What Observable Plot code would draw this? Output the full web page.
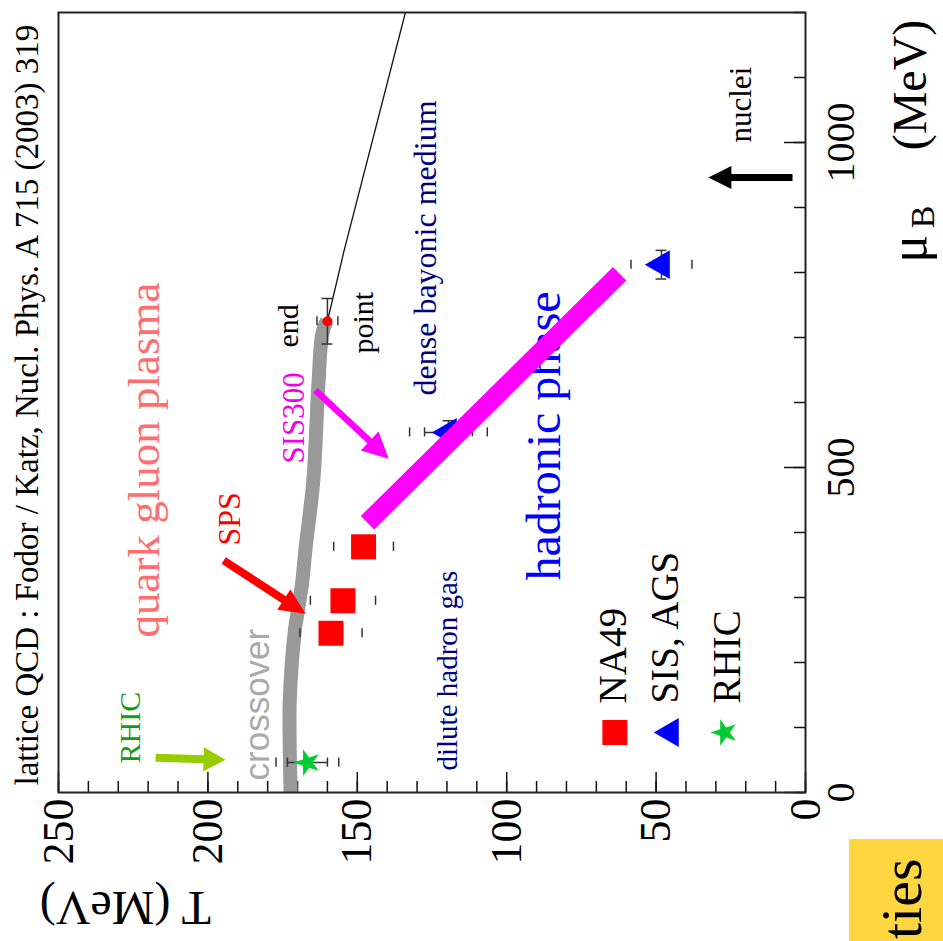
<!DOCTYPE html>
<html>
<head>
<meta charset="utf-8">
<script src="https://cdn.jsdelivr.net/npm/d3@7"></script>
<script src="https://cdn.jsdelivr.net/npm/@observablehq/plot@0.6"></script>
<style>
  html, body { margin: 0; padding: 0; background: #fff; }
  #wrap { position: relative; width: 943px; height: 941px; overflow: hidden; }
  #wrap > svg { display: block; }
  #ties { position: absolute; left: 849px; top: 839px; width: 94px; height: 102px; background: #ffd640; overflow: hidden; }
</style>
</head>
<body>
<div id="wrap">
  <div id="ties"><svg width="94" height="102"><text transform="translate(72,100) rotate(-90)" font-family="'Liberation Serif','Times New Roman',serif" font-size="58" fill="#000">ties</text></svg></div>
</div>
<script>
// ---------- data (μB and T in MeV) ----------
// lattice QCD crossover band (Fodor / Katz)
const crossoverMuB = [0, 65, 141, 245, 321, 372, 475, 526, 629, 706, 726];
const crossoverT   = [172.3, 172.6, 172.6, 171.0, 168.5, 167.4, 164.8, 164.1, 163.0, 161.7, 160.2];
// first-order line beyond the critical end point
const firstOrderMuB = [725, 834, 1200];
const firstOrderT   = [160, 154.4, 133.9];
// critical end point
const endPoint = [{muB: 725, T: 160, errMuB: 35, errT: 3.5}];
// chemical freeze-out points
const na49   = [{muB: 245, T: 158.8, errOut: 10.4}, {muB: 295, T: 154.8, errOut: 10.9}, {muB: 378, T: 147.9, errOut: 10.0}];
const sisAgs = [{muB: 554, T: 119.5, errIn: 8, errOut: 13, errMuB: 18}, {muB: 812, T: 48.2, errIn: 0, errOut: 10.2, errMuB: 22}];
const rhic   = [{muB: 46, T: 166.7, errIn: 6.7, errOut: 10.5}];
// SIS300 range (thick magenta bar)
const sis300 = [{mu1: 415, T1: 146.6, mu2: 798, T2: 62.2}];
// arrows
const arrowSPS    = {mu1: 356.9, T1: 194.7, mu2: 274.9, T2: 167.3};
const arrowRHIC   = {mu1: 53.4,  T1: 217.5, mu2: 50.3,  T2: 194.1};
const arrowSIS300 = {mu1: 618.5, T1: 164.0, mu2: 513.4, T2: 139.5};
const arrowNuclei = {mu1: 946,   T1: 4.35,  mu2: 946,   T2: 32.5};
// ticks
const tTicks  = d3.range(0, 251, 10);
const tMajor  = [0, 50, 100, 150, 200, 250];
const muTicks = d3.range(0, 1201, 100);
const muMajor = [0, 500, 1000];
// text annotations (anchor in data coordinates)
const citation   = {text: "lattice QCD : Fodor / Katz, Nucl. Phys. A 715 (2003) 319", T: 257.0, muB: 10.8};
const qgpLabel   = {text: "quark gluon plasma", T: 216.5, muB: 238.5};
const crossLabel = {text: "crossover", T: 179.7, muB: 18.5};
const rhicLabel  = {text: "RHIC", T: 222.6, muB: 44.6};
const spsLabel   = {text: "SPS", T: 189.1, muB: 380};
const sisLabel   = {text: "SIS300", T: 168.0, muB: 506};
const endLabel   = {text: "end", T: 169.7, muB: 684.6};
const pointLabel = {text: "point", T: 144.6, muB: 675.4};
const denseLabel = {text: "dense bayonic medium", T: 123.5, muB: 610.8};
const hadLabel   = {text: "hadronic phase", T: 82.0, muB: 326};
const diluteLabel= {text: "dilute hadron gas", T: 116.8, muB: 33.8};
const nucleiLabel= {text: "nuclei", T: 18.4, muB: 1000};
const legendNames = ["NA49", "SIS, AGS", "RHIC"];
const legendT     = [63.8, 45.2, 27.1];
const legendTextT = [60.2, 42.8, 21.8];
const legendMuB   = 92.3;
const legendTextMuB = 137;

// ---------- geometry ----------
const W = 943, H = 941;
const M = {left: 58, right: 138, top: 12, bottom: 149};
const Tdom = [250, 0], Mdom = [0, 1200];
const kx = (W - M.left - M.right) / (Tdom[1] - Tdom[0]);
const ky = -(H - M.top - M.bottom) / (Mdom[1] - Mdom[0]);
const angle = a => Math.atan2((a.T2 - a.T1) * kx, -(a.mu2 - a.mu1) * ky) * 180 / Math.PI;

const serif = "'Liberation Serif','Times New Roman',serif";
const sans = "'Liberation Sans',Arial,sans-serif";

const crossover = crossoverMuB.map((m, i) => ({muB: m, T: crossoverT[i]}));
const firstOrder = firstOrderMuB.map((m, i) => ({muB: m, T: firstOrderT[i]}));
const legend = legendNames.map((name, i) => ({name, T: legendT[i], Tt: legendTextT[i]}));

function label(d, o) {
  return Plot.text([d], {x: "T", y: "muB", text: "text", rotate: -90, textAnchor: "start",
    lineAnchor: "bottom", fontFamily: serif, ...o});
}
const eb = {stroke: "#333", strokeWidth: 1.5};
const capMu = 7, capT = 1.8;
function errorMarks(data) {
  const inner = data.filter(d => d.errIn > 0);
  const outer = data.filter(d => d.errOut > 0);
  const mu = data.filter(d => d.errMuB > 0);
  return [
    Plot.ruleY(inner, {y: "muB", x1: d => d.T - d.errIn, x2: d => d.T + d.errIn, ...eb}),
    Plot.ruleX(inner, {x: d => d.T - d.errIn, y1: d => d.muB - capMu, y2: d => d.muB + capMu, ...eb}),
    Plot.ruleX(inner, {x: d => d.T + d.errIn, y1: d => d.muB - capMu, y2: d => d.muB + capMu, ...eb}),
    Plot.ruleX(outer, {x: d => d.T - d.errOut, y1: d => d.muB - capMu, y2: d => d.muB + capMu, ...eb}),
    Plot.ruleX(outer, {x: d => d.T + d.errOut, y1: d => d.muB - capMu, y2: d => d.muB + capMu, ...eb}),
    Plot.ruleX(mu, {x: "T", y1: d => d.muB - d.errMuB, y2: d => d.muB + d.errMuB, ...eb}),
    Plot.ruleY(mu, {y: d => d.muB - d.errMuB, x1: d => d.T - capT, x2: d => d.T + capT, ...eb}),
    Plot.ruleY(mu, {y: d => d.muB + d.errMuB, x1: d => d.T - capT, x2: d => d.T + capT, ...eb})
  ];
}
const head = (L, Wd) => ({draw(ctx) { ctx.moveTo(0, 0); ctx.lineTo(Wd / 2, L); ctx.lineTo(-Wd / 2, L); ctx.closePath(); }});
function arrowMarks(a, color, width, L, Wd) {
  return [
    Plot.arrow([a], {x1: "T1", y1: "mu1", x2: "T2", y2: "mu2", headLength: 0, insetEnd: L * 0.6,
      stroke: color, strokeWidth: width, strokeLinecap: "butt"}),
    Plot.dot([a], {x: "T2", y: "mu2", symbol: head(L, Wd), rotate: angle(a), fill: color, stroke: "none"})
  ];
}

const chart = Plot.plot({
  width: W, height: H,
  marginLeft: M.left, marginRight: M.right, marginTop: M.top, marginBottom: M.bottom,
  x: {domain: Tdom, axis: null},
  y: {domain: Mdom, axis: null},
  style: {background: "white"},
  marks: [
    // ticks (inward)
    Plot.ruleX(tTicks, {x: d => d, insetTop: 769, stroke: "#111", strokeWidth: 1.5}),
    Plot.ruleX(tMajor, {x: d => d, insetTop: 760, stroke: "#111", strokeWidth: 1.5}),
    Plot.ruleY(muTicks, {y: d => d, insetLeft: 736, stroke: "#111", strokeWidth: 1.5}),
    Plot.ruleY(muMajor, {y: d => d, insetLeft: 726, stroke: "#111", strokeWidth: 1.5}),
    // tick labels
    Plot.text(tMajor, {x: d => d, text: d => String(d), frameAnchor: "bottom", dy: 6, rotate: -90,
      textAnchor: "end", lineAnchor: "middle", fontFamily: serif, fontSize: 44, fill: "#000"}),
    Plot.text(muMajor, {y: d => d, text: d => String(d), frameAnchor: "right", dx: 36, rotate: -90,
      textAnchor: "middle", lineAnchor: "middle", fontFamily: serif, fontSize: 40, fill: "#000"}),
    // axis titles
    Plot.text(["T (MeV)"], {x: 199, frameAnchor: "bottom", dy: 99, rotate: 180, textAnchor: "start",
      lineAnchor: "bottom", fontFamily: serif, fontSize: 48, fill: "#000"}),
    Plot.text(["μ"], {y: 815, frameAnchor: "right", dx: 120, rotate: -90, textAnchor: "start",
      lineAnchor: "bottom", fontFamily: serif, fontSize: 52, fill: "#000"}),
    Plot.text(["B"], {y: 868, frameAnchor: "right", dx: 128, rotate: -90, textAnchor: "start",
      lineAnchor: "bottom", fontFamily: serif, fontSize: 34, fill: "#000"}),
    Plot.text(["(MeV)"], {y: 988, frameAnchor: "right", dx: 120, rotate: -90, textAnchor: "start",
      lineAnchor: "bottom", fontFamily: serif, fontSize: 48, fill: "#000"}),
    // citation
    label(citation, {fontSize: 33, fill: "#000"}),
    // crossover band and first order line
    Plot.line(crossover, {x: "T", y: "muB", stroke: "#999", strokeWidth: 14, curve: "catmull-rom", strokeLinecap: "butt", clip: true}),
    Plot.line(firstOrder, {x: "T", y: "muB", stroke: "#111", strokeWidth: 1.3, clip: true}),
    // error bars
    ...errorMarks(na49), ...errorMarks(sisAgs), ...errorMarks(rhic),
    Plot.ruleX(endPoint, {x: "T", y1: d => d.muB - d.errMuB, y2: d => d.muB + d.errMuB, ...eb}),
    Plot.ruleY(endPoint, {y: d => d.muB - d.errMuB, x1: d => d.T - capT, x2: d => d.T + capT, ...eb}),
    Plot.ruleY(endPoint, {y: d => d.muB + d.errMuB, x1: d => d.T - capT, x2: d => d.T + capT, ...eb}),
    Plot.ruleX(endPoint, {x: d => d.T - d.errT, y1: d => d.muB - capMu, y2: d => d.muB + capMu, ...eb}),
    Plot.ruleX(endPoint, {x: d => d.T + d.errT, y1: d => d.muB - capMu, y2: d => d.muB + capMu, ...eb}),
    // data points
    Plot.dot(na49, {x: "T", y: "muB", symbol: "square", r: 14.1, fill: "#ff0000", stroke: "none"}),
    Plot.dot(sisAgs, {x: "T", y: "muB", symbol: "triangle", r: 10.7, rotate: -90, fill: "#0000ff", stroke: "none"}),
    Plot.dot(rhic, {x: "T", y: "muB", symbol: "star", r: 8.4, rotate: -90, fill: "#00cc33", stroke: "none"}),
    Plot.dot(endPoint, {x: "T", y: "muB", r: 5, fill: "#ff0000", stroke: "none"}),
    // legend
    Plot.dot(legend.slice(0, 1), {x: "T", y: () => legendMuB, symbol: "square", r: 14.1, fill: "#ff0000", stroke: "none"}),
    Plot.dot(legend.slice(1, 2), {x: "T", y: () => legendMuB, symbol: "triangle", r: 10.7, rotate: -90, fill: "#0000ff", stroke: "none"}),
    Plot.dot(legend.slice(2, 3), {x: "T", y: () => legendMuB, symbol: "star", r: 8.4, rotate: -90, fill: "#00cc33", stroke: "none"}),
    Plot.text(legend, {x: "Tt", y: () => legendTextMuB, text: "name", rotate: -90, textAnchor: "start",
      lineAnchor: "bottom", fontFamily: serif, fontSize: 39, fill: "#000"}),
    // annotations
    label(qgpLabel, {fontSize: 45, fill: "#ff6e6e"}),
    label(crossLabel, {fontSize: 35, fill: "#aaaaaa", fontFamily: sans}),
    label(rhicLabel, {fontSize: 30, fill: "#149a14"}),
    label(spsLabel, {fontSize: 32, fill: "#ff0000"}),
    label(sisLabel, {fontSize: 31, fill: "#ee00ee"}),
    label(endLabel, {fontSize: 30, fill: "#000"}),
    label(pointLabel, {fontSize: 30, fill: "#000"}),
    label(denseLabel, {fontSize: 32, fill: "#000080"}),
    label(hadLabel, {fontSize: 48, fill: "#0000ff"}),
    label(diluteLabel, {fontSize: 29, fill: "#000080"}),
    label(nucleiLabel, {fontSize: 31, fill: "#000"}),
    // SIS300 range bar
    Plot.link(sis300, {x1: "T1", y1: "mu1", x2: "T2", y2: "mu2", stroke: "#ff00ff", strokeWidth: 19}),
    // arrows
    ...arrowMarks(arrowSPS, "#ff0000", 8, 26, 24),
    ...arrowMarks(arrowRHIC, "#99cc00", 8, 22, 24),
    ...arrowMarks(arrowSIS300, "#ff00ff", 6.5, 26, 26),
    ...arrowMarks(arrowNuclei, "#000000", 7, 23, 23),
    // frame
    Plot.frame({stroke: "#222", strokeWidth: 2})
  ]
});
document.getElementById("wrap").prepend(chart);
</script>
</body>
</html>
